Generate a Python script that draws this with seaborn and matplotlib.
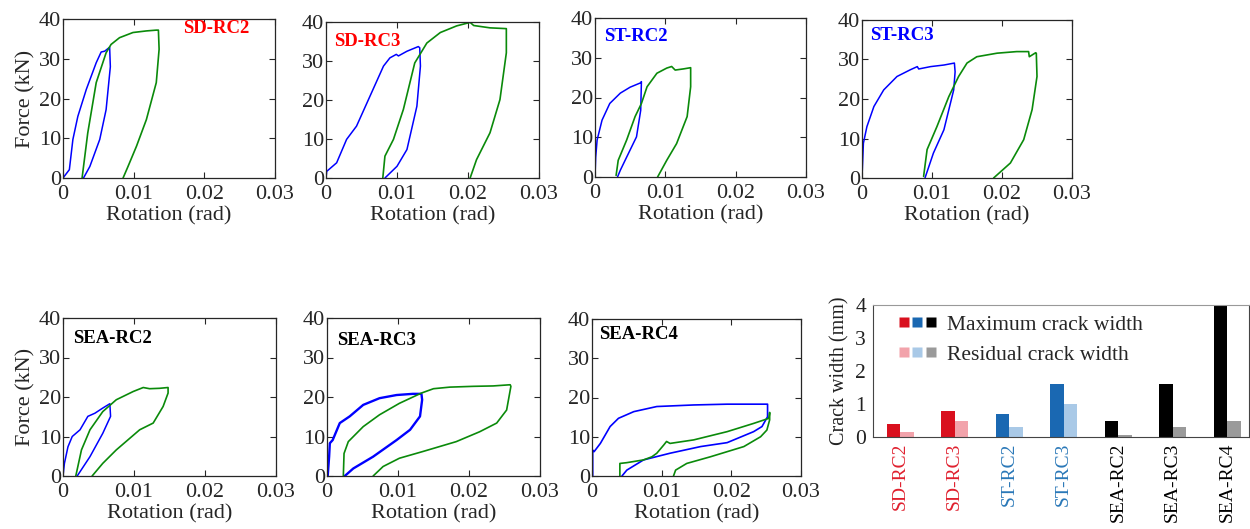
import numpy as np
import pandas as pd
import seaborn as sns
from matplotlib import pyplot as plt
from matplotlib.lines import Line2D
from matplotlib.legend_handler import HandlerTuple


# ---- hysteresis traces (rotation in rad, force in kN) ----
sd_rc2_c1_rot = [0, 0.0009, 0.0014, 0.0021, 0.0033, 0.0047, 0.0054, 0.0059, 0.0066, 0.0067, 0.0061, 0.0052, 0.0038, 0.0029]
sd_rc2_c1_force = [0, 2.1, 9.7, 15.5, 22.3, 29.0, 31.7, 31.9, 32.9, 28.0, 17.2, 9.7, 2.9, 0]
sd_rc2_c2_rot = [0.0027, 0.0035, 0.0047, 0.0061, 0.0068, 0.0080, 0.0099, 0.0118, 0.0132, 0.0135, 0.0136, 0.0132, 0.0118, 0.0104, 0.0092, 0.0085]
sd_rc2_c2_force = [0, 11.3, 24.0, 31.5, 33.6, 35.3, 36.6, 37.0, 37.2, 37.2, 32.4, 24.0, 14.7, 8.0, 2.9, 0]

sd_rc3_c1_rot = [0, 0.0001, 0.0015, 0.0029, 0.0043, 0.0062, 0.0081, 0.0090, 0.0099, 0.0102, 0.0114, 0.0130, 0.0132, 0.0133, 0.0128, 0.0114, 0.0100, 0.0083]
sd_rc3_c1_force = [0, 1.7, 3.9, 9.9, 13.3, 21.0, 28.7, 30.8, 31.7, 31.3, 32.5, 33.7, 33.4, 28.7, 18.4, 7.3, 3.0, 0]
sd_rc3_c2_rot = [0.0080, 0.0083, 0.0095, 0.0109, 0.0125, 0.0142, 0.0161, 0.0184, 0.0203, 0.0208, 0.0231, 0.0254, 0.0254, 0.0245, 0.0231, 0.0212, 0.0203]
sd_rc3_c2_force = [0, 5.6, 9.9, 17.6, 29.5, 34.6, 37.3, 39.0, 39.9, 39.1, 38.5, 38.3, 32.1, 20.1, 11.6, 4.7, 0]

st_rc2_c1_rot = [0, 0.0001, 0.0003, 0.0010, 0.0021, 0.0036, 0.0050, 0.0065, 0.0066, 0.0065, 0.0059, 0.0045, 0.0036, 0.0032]
st_rc2_c1_force = [0, 5.0, 9.3, 14.3, 18.5, 21.1, 22.6, 23.7, 24.0, 16.8, 10.1, 5.0, 1.7, 0]
st_rc2_c2_rot = [0.0030, 0.0033, 0.0045, 0.0057, 0.0066, 0.0074, 0.0088, 0.0102, 0.0109, 0.0114, 0.0126, 0.0136, 0.0136, 0.0131, 0.0116, 0.0102, 0.0089]
st_rc2_c2_force = [0.4, 4.2, 9.3, 15.2, 18.5, 22.7, 26.1, 27.4, 27.8, 26.9, 27.2, 27.5, 22.7, 15.2, 8.4, 4.2, 0]

st_rc3_c1_rot = [0, 0.0002, 0.0007, 0.0017, 0.0031, 0.0050, 0.0069, 0.0079, 0.0081, 0.0098, 0.0117, 0.0132, 0.0133, 0.0131, 0.0117, 0.0102, 0.0090]
st_rc3_c1_force = [0, 8.8, 13.0, 18.1, 22.3, 25.7, 27.4, 28.2, 27.6, 28.2, 28.6, 29.1, 26.9, 22.3, 12.2, 6.3, 0]
st_rc3_c2_rot = [0.0088, 0.0093, 0.0107, 0.0124, 0.0138, 0.0150, 0.0164, 0.0193, 0.0221, 0.0238, 0.0239, 0.0248, 0.0249, 0.0250, 0.0243, 0.0231, 0.0212, 0.0188]
st_rc3_c2_force = [0.4, 7.2, 13.0, 20.6, 25.7, 29.1, 30.7, 31.6, 32.0, 32.0, 30.7, 31.7, 31.6, 25.7, 17.3, 9.7, 3.8, 0]

sea_rc2_c1_rot = [0, 0.0002, 0.0007, 0.0013, 0.0024, 0.0035, 0.0045, 0.0056, 0.0066, 0.0067, 0.0056, 0.0038, 0.0020]
sea_rc2_c1_force = [0, 3.2, 7.4, 10.0, 11.7, 15.1, 15.9, 17.2, 18.3, 15.1, 10.8, 4.9, 0]
sea_rc2_c2_rot = [0.0018, 0.0026, 0.0038, 0.0056, 0.0075, 0.0099, 0.0113, 0.0122, 0.0136, 0.0148, 0.0148, 0.0141, 0.0127, 0.0108, 0.0075, 0.0056, 0.0041]
sea_rc2_c2_force = [0, 6.6, 11.7, 16.3, 19.3, 21.4, 22.4, 22.1, 22.2, 22.4, 21.0, 17.6, 13.4, 11.7, 6.6, 3.2, 0]

sea_rc3_c1_rot = [0.0001, 0.0003, 0.0004, 0.0008, 0.0018, 0.0032, 0.0051, 0.0074, 0.0098, 0.0121, 0.0133, 0.0134, 0.0131, 0.0117, 0.0098, 0.0065, 0.0037, 0.0025]
sea_rc3_c1_force = [0, 4.9, 8.3, 9.1, 13.4, 15.1, 18.0, 19.7, 20.5, 20.8, 20.8, 19.3, 15.1, 11.7, 9.1, 4.9, 1.9, 0]
sea_rc3_c2_rot = [0.0023, 0.0024, 0.0030, 0.0051, 0.0074, 0.0102, 0.0133, 0.0150, 0.0173, 0.0206, 0.0234, 0.0258, 0.0259, 0.0253, 0.0239, 0.0215, 0.0182, 0.0135, 0.0102, 0.0079, 0.0065]
sea_rc3_c2_force = [0, 5.7, 8.7, 12.5, 15.5, 18.4, 21.0, 22.1, 22.5, 22.7, 22.8, 23.1, 22.7, 16.7, 13.4, 11.2, 8.7, 6.2, 4.5, 2.4, 0]

sea_rc4_c1_rot = [0.0001, 0.0001, 0.0003, 0.0012, 0.0026, 0.0038, 0.0060, 0.0093, 0.0146, 0.0194, 0.0252, 0.0252, 0.0244, 0.0232, 0.0194, 0.0156, 0.0112, 0.0074, 0.0050, 0.0043]
sea_rc4_c1_force = [0, 6.6, 6.2, 8.3, 12.6, 14.7, 16.4, 17.7, 18.1, 18.3, 18.3, 15.1, 12.6, 11.3, 8.5, 7.5, 5.8, 4.1, 1.5, 0]
sea_rc4_c2_rot = [0.0040, 0.0040, 0.0050, 0.0074, 0.0086, 0.0093, 0.0103, 0.0107, 0.0112, 0.0146, 0.0194, 0.0232, 0.0254, 0.0255, 0.0255, 0.0251, 0.0242, 0.0218, 0.0170, 0.0136, 0.0120, 0.0117]
sea_rc4_c2_force = [0, 3.2, 3.4, 4.1, 4.9, 5.8, 7.9, 8.8, 8.3, 9.2, 11.3, 13.4, 14.7, 16.2, 14.3, 11.7, 10.0, 7.5, 4.9, 3.2, 1.5, 0]

# ---- crack widths (mm) ----
specimens = ['SD-RC2', 'SD-RC3', 'ST-RC2', 'ST-RC3', 'SEA-RC2', 'SEA-RC3', 'SEA-RC4']
max_crack = [0.4, 0.8, 0.7, 1.6, 0.5, 1.6, 4.0]
residual_crack = [0.15, 0.5, 0.3, 1.0, 0.05, 0.3, 0.5]

rot_ticks = [0, 0.01, 0.02, 0.03]
rot_ticklabels = ['0', '0.01', '0.02', '0.03']
force_ticks = [0, 10, 20, 30, 40]

blue = '#0000ff'
green = '#0a8a0a'
group_dark = {'SD': '#d9101e', 'ST': '#1a68b2', 'SEA': '#000000'}
group_light = {'SD': '#f2a3ab', 'ST': '#a9c9e7', 'SEA': '#9a9a9a'}
group_text = {'SD': '#e0202e', 'ST': '#2a78b8', 'SEA': '#000000'}
title_color = {'SD': '#ff0000', 'ST': '#0000ff', 'SEA': '#000000'}

sns.set_style('ticks')
plt.rcParams['font.family'] = ['Liberation Serif', 'DejaVu Serif']

W, H = 1250, 529
fig = plt.figure(figsize=(W / 100, H / 100), dpi=100)


def px_axes(left, right, top, bottom):
    return fig.add_axes([left / W, (H - bottom) / H, (right - left) / W, (bottom - top) / H])


# (name, cycle-1 data, cycle-2 data, box in px, title x frac, title y frac, ylabel?, blue lw)
panels = [
    ('SD-RC2', (sd_rc2_c1_rot, sd_rc2_c1_force), (sd_rc2_c2_rot, sd_rc2_c2_force), (63, 275, 19, 178), 0.565, 0.94, True, 1.1),
    ('SD-RC3', (sd_rc3_c1_rot, sd_rc3_c1_force), (sd_rc3_c2_rot, sd_rc3_c2_force), (326, 539, 22, 178), 0.04, 0.875, False, 1.1),
    ('ST-RC2', (st_rc2_c1_rot, st_rc2_c1_force), (st_rc2_c2_rot, st_rc2_c2_force), (595, 806, 18, 177), 0.045, 0.885, False, 1.1),
    ('ST-RC3', (st_rc3_c1_rot, st_rc3_c1_force), (st_rc3_c2_rot, st_rc3_c2_force), (862, 1072, 20, 178), 0.04, 0.9, False, 1.1),
    ('SEA-RC2', (sea_rc2_c1_rot, sea_rc2_c1_force), (sea_rc2_c2_rot, sea_rc2_c2_force), (63, 276, 318, 476), 0.045, 0.873, True, 1.1),
    ('SEA-RC3', (sea_rc3_c1_rot, sea_rc3_c1_force), (sea_rc3_c2_rot, sea_rc3_c2_force), (327, 540, 318, 476), 0.045, 0.86, False, 1.7),
    ('SEA-RC4', (sea_rc4_c1_rot, sea_rc4_c1_force), (sea_rc4_c2_rot, sea_rc4_c2_force), (592, 801, 319, 476), 0.035, 0.9, False, 1.2),
]

for name, c1, c2, box, tx, ty, show_ylabel, blue_lw in panels:
    ax = px_axes(*box)
    sns.lineplot(x=c1[0], y=c1[1], sort=False, estimator=None, color=blue, linewidth=blue_lw, ax=ax)
    sns.lineplot(x=c2[0], y=c2[1], sort=False, estimator=None, color=green, linewidth=1.2, ax=ax)
    ax.set_xlim(0, 0.03)
    ax.set_ylim(0, 40)
    ax.set_xticks(rot_ticks)
    ax.set_xticklabels(rot_ticklabels)
    ax.set_yticks(force_ticks)
    ax.tick_params(direction='in', top=True, right=True, length=4, width=0.8,
                   labelsize=16)
    ax.tick_params(axis='x', pad=5)
    ax.tick_params(axis='y', pad=1.5)
    for s in ax.spines.values():
        s.set_linewidth(0.9)
    ax.set_xlabel('Rotation (rad)', fontsize=16, labelpad=2)
    ax.set_ylabel('Force (kN)' if show_ylabel else '', fontsize=16, labelpad=2)
    group = name.split('-')[0]
    ax.text(tx, ty, name, transform=ax.transAxes, ha='left', va='center',
            fontsize=13.5, fontweight='bold', color=title_color[group])

# ---- crack width bar chart ----
crack_df = pd.DataFrame({
    'specimen': specimens * 2,
    'width': max_crack + residual_crack,
    'kind': ['Maximum crack width'] * len(specimens) + ['Residual crack width'] * len(specimens),
})

bx = px_axes(873, 1249, 305, 437)
sns.barplot(data=crack_df, x='specimen', y='width', hue='kind', width=0.5, gap=0,
            legend=False, ax=bx)
groups = [s.split('-')[0] for s in specimens]
bars = bx.patches
for i, g in enumerate(groups):
    bars[i].set_facecolor(group_dark[g])
    bars[i].set_edgecolor('none')
    bars[i + len(specimens)].set_facecolor(group_light[g])
    bars[i + len(specimens)].set_edgecolor('none')

bx.set_xlim(-0.5, 6.4)
bx.set_ylim(0, 4)
bx.set_yticks([0, 1, 2, 3, 4])
bx.set_xlabel('')
bx.set_ylabel('Crack width (mm)', fontsize=14.5, labelpad=4, color='#222222')
bx.tick_params(axis='both', length=0, colors='#222222')
bx.tick_params(axis='y', pad=5, labelsize=15.5)
bx.tick_params(axis='x', pad=4, labelsize=14)
bx.set_xticks(range(len(specimens)))
bx.set_xticklabels(specimens, rotation=90)
for lab, g in zip(bx.get_xticklabels(), groups):
    lab.set_color(group_text[g])
for side, s in bx.spines.items():
    s.set_visible(True)
    s.set_linewidth(0.8)
    s.set_color('#444444')
bx.spines['top'].set_color('#999999')

handle_max = tuple(Line2D([], [], linestyle='none', marker='s', markersize=7,
                          markerfacecolor=group_dark[g], markeredgecolor='none')
                   for g in ['SD', 'ST', 'SEA'])
handle_res = tuple(Line2D([], [], linestyle='none', marker='s', markersize=7,
                          markerfacecolor=group_light[g], markeredgecolor='none')
                   for g in ['SD', 'ST', 'SEA'])
bx.legend([handle_max, handle_res], ['Maximum crack width', 'Residual crack width'],
          handler_map={tuple: HandlerTuple(ndivide=None, pad=0.25)},
          loc='upper left', bbox_to_anchor=(0.072, 0.925), frameon=False,
          fontsize=15.5, handlelength=1.6, handletextpad=0.6, labelspacing=0.45,
          borderpad=0, borderaxespad=0)

fig.savefig('out.png', dpi=100)
